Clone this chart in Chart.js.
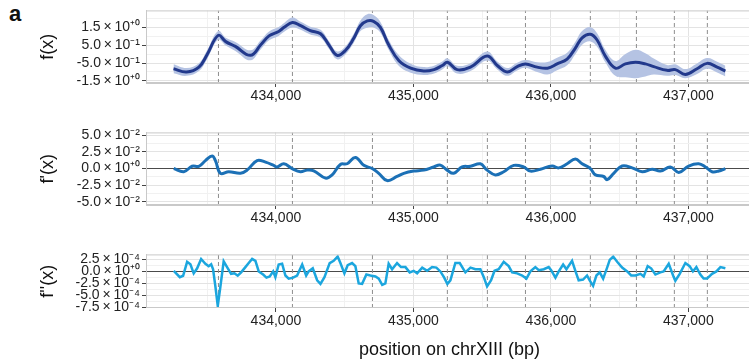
<!DOCTYPE html>
<html>
<head>
<meta charset="utf-8">
<script src="https://cdn.jsdelivr.net/npm/chart.js@4.4.0/dist/chart.umd.min.js"></script>
<style>
  body { margin: 0; width: 749px; height: 362px; overflow: hidden; background: #fff; position: relative; }
  .panel { position: absolute; left: 0; }
  #tag { position: absolute; left: 9px; top: 1px; font: bold 22px "Liberation Sans", Arial, sans-serif; color: #111; }
</style>
</head>
<body>
<div id="tag">a</div>
<div class="panel" style="top:0"><canvas id="c1" width="753" height="106"></canvas></div>
<div class="panel" style="top:122px"><canvas id="c2" width="753" height="106"></canvas></div>
<div class="panel" style="top:244px"><canvas id="c3" width="753" height="118"></canvas></div>
<script>
// x axis (bp on chrXIII)
const xTicks = [434000, 435000, 436000, 437000];
const xTickLabels = ['434,000', '435,000', '436,000', '437,000'];
const xMinor = [433500, 434500, 435500, 436500];
// dashed vertical marks
const breaks = [433582, 434120, 434702, 435247, 435538, 435815, 436287, 436622, 436898, 437138];

// f(x) with ribbon
const fxPos = [433255, 433350, 433440, 433500, 433580, 433635, 433705, 433815, 433890, 433950,
  434020, 434060, 434120, 434180, 434250, 434325, 434385, 434445, 434505, 434565,
  434615, 434665, 434710, 434760, 434820, 434895, 434980, 435075, 435150, 435210,
  435248, 435318, 435415, 435536, 435610, 435682, 435755, 435815, 435900, 435975,
  436045, 436118, 436178, 436227, 436287, 436336, 436396, 436469, 436542, 436615,
  436687, 436748, 436845, 436905, 436978, 437063, 437136, 437209, 437269];
const fxVal = [-0.82, -1.00, -0.73, -0.02, 1.05, 0.70, 0.43, -0.07, 0.52, 1.02,
  1.27, 1.50, 1.77, 1.59, 1.32, 1.14, 0.52, -0.07, 0.20, 0.87,
  1.59, 1.86, 1.84, 1.50, 0.52, -0.37, -0.79, -0.95, -0.87, -0.64,
  -0.46, -0.87, -0.73, -0.11, -0.64, -1.00, -0.70, -0.55, -0.73, -0.79,
  -0.55, -0.28, 0.34, 0.91, 1.11, 0.79, -0.11, -0.79, -0.55, -0.46,
  -0.55, -0.70, -0.91, -0.87, -1.14, -0.82, -0.52, -0.73, -0.95];
const fxLo = [-1.07, -1.22, -0.95, -0.27, 0.80, 0.48, 0.18, -0.35, 0.27, 0.77,
  1.02, 1.25, 1.49, 1.37, 1.10, 0.92, 0.30, -0.29, -0.02, 0.62,
  1.29, 1.48, 1.49, 1.20, 0.24, -0.67, -1.04, -1.17, -1.09, -0.86,
  -0.68, -1.09, -0.95, -0.36, -0.86, -1.22, -0.92, -0.77, -1.01, -1.14,
  -0.90, -0.63, -0.01, 0.53, 0.71, 0.41, -0.46, -1.22, -1.30, -1.35,
  -1.25, -1.15, -1.21, -1.17, -1.35, -1.12, -0.82, -1.03, -1.25];
const fxHi = [-0.57, -0.78, -0.51, 0.23, 1.30, 0.92, 0.68, 0.21, 0.77, 1.27,
  1.52, 1.75, 2.05, 1.81, 1.54, 1.36, 0.74, 0.15, 0.42, 1.12,
  1.89, 2.24, 2.19, 1.80, 0.80, -0.07, -0.54, -0.73, -0.65, -0.42,
  -0.24, -0.65, -0.51, 0.14, -0.42, -0.78, -0.48, -0.33, -0.45, -0.44,
  -0.20, 0.07, 0.69, 1.29, 1.51, 1.17, 0.24, -0.39, 0.00, 0.24,
  0.05, -0.25, -0.61, -0.57, -0.84, -0.52, -0.22, -0.43, -0.65];
const fxTicks = [1.5, 0.5, -0.5, -1.5];
const fxTickLabels = ['1.5\u2009×\u200910⁺⁰', '5.0\u2009×\u200910⁻¹', '-5.0\u2009×\u200910⁻¹', '-1.5\u2009×\u200910⁺⁰'];
const fxMinor = [2.0, 1.0, 0, -1.0];

// f'(x)
const fpPos = [433257, 433330, 433390, 433439, 433487, 433536, 433560, 433596, 433657, 433742,
  433790, 433863, 433924, 433984, 434009, 434057, 434118, 434178, 434227, 434275,
  434360, 434409, 434469, 434518, 434578, 434639, 434700, 434748, 434809, 434881,
  434930, 435002, 435075, 435148, 435196, 435245, 435293, 435354, 435415, 435487,
  435536, 435596, 435657, 435730, 435802, 435851, 435924, 436009, 436057, 436118,
  436178, 436227, 436287, 436324, 436384, 436409, 436457, 436518, 436591, 436664,
  436736, 436796, 436869, 436930, 437002, 437075, 437124, 437172, 437221, 437269];
const fpVal = [0, -0.0048, 0.0034, 0.0034, 0.012, 0.019, 0.012, -0.0072, -0.0048, -0.0072,
  -0.0024, 0.012, 0.0096, 0.0048, 0.0024, 0.0072, 0, -0.0048, -0.0024, -0.0034,
  -0.0144, -0.0096, 0.0062, 0.0072, 0.0168, 0.0048, 0, -0.0072, -0.0182, -0.012,
  -0.0072, -0.0038, -0.0024, 0.0024, 0.0052, -0.0024, -0.0072, 0.0024, 0.0034, 0.0072,
  -0.0024, -0.0096, -0.0048, 0.0048, 0.0024, -0.0038, -0.001, 0.0038, 0.001, 0.0072,
  0.0144, 0.0072, 0, -0.0096, -0.012, -0.0168, -0.0072, 0.0038, 0.001, -0.0048,
  -0.001, -0.0038, 0.0024, -0.0058, 0.0038, 0.0072, 0.0024, -0.0048, -0.0038, 0];
const fpTicks = [0.05, 0.025, 0, -0.025, -0.05];
const fpTickLabels = ['5.0\u2009×\u200910⁻²', '2.5\u2009×\u200910⁻²', '0.0\u2009×\u200910⁺⁰', '-2.5\u2009×\u200910⁻²', '-5.0\u2009×\u200910⁻²'];
const fpMinor = [0.0375, 0.0125, -0.0125, -0.0375];

// f''(x)
const fppPos = [433257, 433301, 433325, 433354, 433378, 433402, 433427, 433456, 433487, 433511,
  433529, 433543, 433560, 433577, 433596, 433620, 433650, 433674, 433698, 433722,
  433747, 433778, 433802, 433827, 433851, 433875, 433907, 433931, 433955, 433980,
  433996, 434020, 434045, 434069, 434093, 434125, 434154, 434191, 434220, 434238,
  434268, 434300, 434324, 434353, 434391, 434420, 434449, 434469, 434498, 434522,
  434554, 434578, 434602, 434627, 434658, 434687, 434724, 434748, 434773, 434796,
  434820, 434845, 434881, 434910, 434942, 434973, 435002, 435027, 435064, 435100,
  435136, 435167, 435196, 435222, 435247, 435269, 435305, 435337, 435378, 435415,
  435451, 435487, 435512, 435536, 435565, 435590, 435620, 435657, 435693, 435718,
  435755, 435791, 435822, 435851, 435887, 435912, 435948, 435984, 436002, 436033,
  436057, 436089, 436113, 436154, 436178, 436202, 436234, 436263, 436282, 436307,
  436331, 436355, 436380, 436409, 436428, 436453, 436482, 436518, 436555, 436584,
  436615, 436651, 436675, 436704, 436729, 436760, 436796, 436820, 436857, 436889,
  436905, 436937, 436978, 437009, 437033, 437058, 437087, 437111, 437136, 437172,
  437204, 437233, 437269];
const fppVal = [0.13e-4, -1.2e-4, -0.9e-4, 2.0e-4, 1.5e-4, -0.4e-4, 0.65e-4, 2.6e-4, 1.6e-4, 1.1e-4,
  1.5e-4, 0.45e-4, -3.2e-4, -7.2e-4, -3.2e-4, 2.1e-4, 0.65e-4, -0.5e-4, -0.4e-4, -0.9e-4,
  -0.2e-4, 0.9e-4, 1.75e-4, 2.6e-4, 2.2e-4, 0, -0.65e-4, -1.3e-4, -1.05e-4, 0,
  -1.2e-4, 1.45e-4, 1.6e-4, -0.85e-4, -1.5e-4, -1.3e-4, -0.85e-4, 1.45e-4, -0.85e-4, 0,
  0.65e-4, -1.85e-4, -2.6e-4, -1.2e-4, 1.75e-4, 2.2e-4, 3.1e-4, 1.75e-4, -0.4e-4, 1.3e-4,
  1.75e-4, 1.1e-4, -2.5e-4, -2.6e-4, -0.65e-4, -0.85e-4, -1.05e-4, -1.5e-4, -2.8e-4, -2.5e-4,
  1.6e-4, 0.45e-4, 1.75e-4, 0.9e-4, 0.9e-4, -0.2e-4, 0.13e-4, -0.4e-4, 0.8e-4, 0.13e-4,
  0.9e-4, 0.8e-4, 0, -1.2e-4, -2.6e-4, -1.85e-4, 1.75e-4, 1.75e-4, -0.2e-4, 0.8e-4,
  0.45e-4, 0.45e-4, -1.2e-4, -3.15e-4, -1.85e-4, 0.13e-4, 0.45e-4, 2.0e-4, 1.1e-4, -0.2e-4,
  -0.4e-4, -0.85e-4, -1.5e-4, 0, 0.9e-4, 0.26e-4, 0.45e-4, 0.9e-4, 0.26e-4, -1.3e-4,
  0, 1.45e-4, 0.45e-4, 2.2e-4, 0.13e-4, -1.85e-4, -1.7e-4, -0.85e-4, -1.85e-4, -3.0e-4,
  -0.85e-4, -0.2e-4, -1.5e-4, 0.8e-4, 2.4e-4, 3.1e-4, 2.0e-4, 0.8e-4, 0, -0.85e-4,
  -0.85e-4, -0.5e-4, -1.05e-4, 1.1e-4, 0.65e-4, -0.65e-4, -0.2e-4, 0, 1.6e-4, -0.85e-4,
  -1.95e-4, -0.5e-4, 1.75e-4, 1.1e-4, 0, 0.9e-4, -0.65e-4, -1.5e-4, -1.5e-4, -0.5e-4,
  0, 0.9e-4, 0.65e-4];
const fppTicks = [2.5e-4, 0, -2.5e-4, -5.0e-4, -7.5e-4];
const fppTickLabels = ['2.5\u2009×\u200910⁻⁴', '0.0\u2009×\u200910⁺⁰', '-2.5\u2009×\u200910⁻⁴', '-5.0\u2009×\u200910⁻⁴', '-7.5\u2009×\u200910⁻⁴'];
const fppMinor = [1.25e-4, -1.25e-4, -3.75e-4, -6.25e-4];

const X_MIN = 433055, X_MAX = 437470;
const PAD_LEFT = 34;
const FONT = '"Liberation Sans", Arial, sans-serif';
const MAJOR = '#e3e3e3', MINOR = '#f1f1f1', EDGE = '#c9c9c9';
Chart.defaults.font.family = FONT;

const pts = (xs, ys) => xs.map((x, i) => ({x: x, y: ys[i]}));

const frame = {
  id: 'frame',
  afterDatasetsDraw(chart) {
    const a = chart.chartArea, ctx = chart.ctx;
    ctx.save();
    ctx.strokeStyle = EDGE;
    ctx.lineWidth = 1;
    ctx.strokeRect(a.left + 0.5, a.top + 0.5, a.right - a.left - 1, a.bottom - a.top - 1);
    ctx.restore();
  }
};

function panel(id, cfg) {
  const sets = [];
  breaks.forEach(b => sets.push({
    data: [{x: b, y: cfg.yMin}, {x: b, y: cfg.yMax}],
    borderColor: '#8d8d8d', borderWidth: 1, borderDash: [4, 3],
    pointRadius: 0, tension: 0, fill: false, order: 10
  }));
  cfg.series.forEach(s => sets.push(s));
  const yGrid = cfg.yTicks.concat(cfg.yMinor).sort((a, b) => a - b);
  const xGrid = xTicks.concat(xMinor).sort((a, b) => a - b);
  const isMajorY = v => cfg.yTicks.indexOf(v) >= 0;
  const isMajorX = v => xTicks.indexOf(v) >= 0;
  return new Chart(document.getElementById(id), {
    type: 'line',
    data: {datasets: sets},
    plugins: [frame],
    options: {
      responsive: false,
      animation: false,
      events: [],
      layout: {autoPadding: false, padding: {left: PAD_LEFT, top: 7, right: 0, bottom: 0}},
      plugins: {legend: {display: false}, tooltip: {enabled: false}},
      scales: {
        x: {
          type: 'linear', min: X_MIN, max: X_MAX,
          afterBuildTicks: s => { s.ticks = xGrid.map(v => ({value: v})); },
          afterFit: s => { s.height = cfg.xAxisH; },
          ticks: {
            autoSkip: false, maxRotation: 0, padding: 1,
            color: '#222', font: {size: 14},
            callback: v => isMajorX(v) ? xTickLabels[xTicks.indexOf(v)] : ''
          },
          grid: {
            color: c => c.tick && isMajorX(c.tick.value) ? MAJOR : MINOR,
            tickColor: c => c.tick && isMajorX(c.tick.value) ? '#444' : 'rgba(0,0,0,0)',
            tickLength: 4
          },
          border: {color: EDGE},
          title: cfg.xTitle ? {display: true, text: cfg.xTitle, color: '#111', font: {size: 18}, padding: {top: 0, bottom: 1}} : {display: false}
        },
        y: {
          type: 'linear', min: cfg.yMin, max: cfg.yMax,
          afterBuildTicks: s => { s.ticks = yGrid.map(v => ({value: v})); },
          afterFit: s => { s.width = 146 - PAD_LEFT; },
          ticks: {
            autoSkip: false, padding: 2,
            color: '#222', font: {size: 14},
            callback: v => isMajorY(v) ? cfg.yLabels[cfg.yTicks.indexOf(v)] : ''
          },
          grid: {
            color: c => {
              if (!c.tick) return MINOR;
              if (cfg.zeroLine && c.tick.value === 0) return '#4a4a4a';
              return isMajorY(c.tick.value) ? MAJOR : MINOR;
            },
            tickColor: c => c.tick && isMajorY(c.tick.value) ? '#444' : 'rgba(0,0,0,0)',
            tickLength: 4
          },
          border: {color: EDGE},
          title: {display: true, text: cfg.title, color: '#111', font: {size: 18}, padding: {top: 3, bottom: 0}}
        }
      }
    }
  });
}

panel('c1', {
  yMin: -1.62, yMax: 2.45, yTicks: fxTicks, yLabels: fxTickLabels, yMinor: fxMinor,
  title: 'f(x)', xAxisH: 23, zeroLine: false,
  series: [
    {data: pts(fxPos, fxHi), borderWidth: 0, pointRadius: 0, tension: 0.4, fill: '+1', backgroundColor: '#b5c3e3', order: 5},
    {data: pts(fxPos, fxLo), borderWidth: 0, pointRadius: 0, tension: 0.4, fill: false, order: 5},
    {data: pts(fxPos, fxVal), borderColor: '#22398c', borderWidth: 3, pointRadius: 0, tension: 0.4, fill: false, order: 0}
  ]
});

panel('c2', {
  yMin: -0.055, yMax: 0.0545, yTicks: fpTicks, yLabels: fpTickLabels, yMinor: fpMinor,
  title: "f'(x)", xAxisH: 23, zeroLine: true,
  series: [
    {data: pts(fpPos, fpVal), borderColor: '#1b70b6', borderWidth: 3, pointRadius: 0, tension: 0.4, fill: false, order: 0}
  ]
});

panel('c3', {
  yMin: -7.63e-4, yMax: 3.55e-4, yTicks: fppTicks, yLabels: fppTickLabels, yMinor: fppMinor,
  title: "f''(x)", xAxisH: 54, zeroLine: true, xTitle: 'position on chrXIII (bp)',
  series: [
    {data: pts(fppPos, fppVal), borderColor: '#1ba6de', borderWidth: 2.5, pointRadius: 0, tension: 0, fill: false, order: 0}
  ]
});
</script>
</body>
</html>
